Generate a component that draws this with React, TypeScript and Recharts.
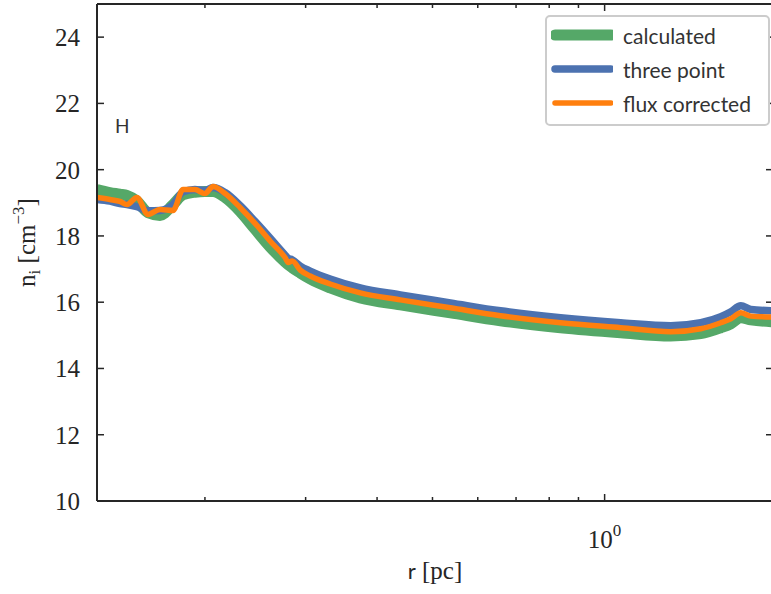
import React from 'react';
import { LineChart, Line, XAxis, YAxis, Legend } from 'recharts';

// radius in pc (log axis)
const radius = [
  0.1295, 0.1364, 0.142, 0.1461, 0.1521, 0.159, 0.1669, 0.1759, 0.1831, 0.1921,
  0.2, 0.2066, 0.2169, 0.2304, 0.2447, 0.2602, 0.2763, 0.2797, 0.2842, 0.2936,
  0.3056, 0.3312, 0.3738, 0.4393, 0.5374, 0.6575, 0.8374, 1.0666, 1.305, 1.4732,
  1.5967, 1.6625, 1.7306, 1.8019, 1.97,
];

const calculated = [
  19.4, 19.31, 19.26, 19.22, 19.05, 18.7, 18.62, 18.95, 19.24, 19.32,
  19.34, 19.34, 19.16, 18.74, 18.2, 17.66, 17.21, 17.13, 17.04, 16.88,
  16.7, 16.43, 16.13, 15.92, 15.68, 15.44, 15.23, 15.08, 14.98, 15.05,
  15.23, 15.35, 15.53, 15.47, 15.41,
];

const threePoint = [
  19.1, 19.05, 18.98, 18.95, 18.88, 18.76, 18.77, 18.95, 19.33, 19.4,
  19.37, 19.46, 19.31, 18.92, 18.44, 17.93, 17.42, 17.32, 17.28, 17.09,
  16.94, 16.7, 16.43, 16.22, 15.98, 15.74, 15.53, 15.38, 15.29, 15.38,
  15.56, 15.71, 15.89, 15.78, 15.74,
];

const fluxCorrected = [
  19.16, 19.1, 19.04, 18.95, 19.16, 18.65, 18.8, 18.77, 19.4, 19.4,
  19.28, 19.49, 19.28, 18.86, 18.38, 17.84, 17.34, 17.2, 17.24, 16.97,
  16.79, 16.55, 16.28, 16.07, 15.83, 15.59, 15.38, 15.23, 15.11, 15.2,
  15.38, 15.5, 15.68, 15.58, 15.55,
];

const xTicks = [0.2, 0.3, 0.4, 0.5, 0.6, 0.7, 0.8, 0.9, 1];
const yTicks = [10, 12, 14, 16, 18, 20, 22, 24];

const series = [
  { key: 'calculated', name: 'calculated', color: '#55a868', width: 11 },
  { key: 'threePoint', name: 'three point', color: '#4c72b0', width: 7.5 },
  { key: 'fluxCorrected', name: 'flux corrected', color: '#ff7f0e', width: 5.5 },
];

const data = radius.map((r, i) => ({
  r,
  calculated: calculated[i],
  threePoint: threePoint[i],
  fluxCorrected: fluxCorrected[i],
}));

const INK = '#262626';
const SERIF = '"Liberation Serif", "DejaVu Serif", serif';
const SANS = 'Lato, "DejaVu Sans", sans-serif';

const BottomTick = ({ x, y, payload }: any) => {
  const major = payload.value === 1;
  return (
    <g>
      <line x1={x} y1={y} x2={x} y2={y - (major ? 7 : 4)} stroke={INK} strokeWidth={1.5} />
      {major && (
        <text x={x} y={y + 47} textAnchor="middle" fontFamily={SERIF} fontSize={25} fill={INK}>
          10<tspan dy={-12} fontSize={17}>0</tspan>
        </text>
      )}
    </g>
  );
};

const TopTick = ({ x, y, payload }: any) => (
  <line x1={x} y1={y} x2={x} y2={y + (payload.value === 1 ? 7 : 4)} stroke={INK} strokeWidth={1.5} />
);

const LeftTick = ({ x, y, payload }: any) => (
  <g>
    <line x1={x} y1={y} x2={x + 7} y2={y} stroke={INK} strokeWidth={1.5} />
    <text x={x - 17} y={y + 9} textAnchor="end" fontFamily={SERIF} fontSize={25} fill={INK}>
      {payload.value}
    </text>
  </g>
);

const RightTick = ({ x, y }: any) => (
  <line x1={x} y1={y} x2={x - 7} y2={y} stroke={INK} strokeWidth={1.5} />
);

const XTitle = ({ viewBox }: any) => (
  <text x={viewBox.x + viewBox.width / 2} y={viewBox.y + 78} textAnchor="middle" fontFamily={SERIF} fontSize={25} fill={INK}>
    <tspan fontFamily={SANS} fontSize={22}>r</tspan> [pc]
  </text>
);

const YTitle = ({ viewBox }: any) => {
  const cx = 35;
  const cy = viewBox.y + viewBox.height / 2 - 10;
  return (
    <text x={cx} y={cy} transform={`rotate(-90 ${cx} ${cy})`} textAnchor="middle" fontFamily={SERIF} fontSize={25} fill={INK}>
      n<tspan dy={5} fontSize={17}>i</tspan>
      <tspan dy={-5}> [cm</tspan>
      <tspan dy={-11} fontSize={17}>−3</tspan>
      <tspan dy={11}>]</tspan>
    </text>
  );
};

const LegendBox = () => (
  <div
    style={{
      width: 221,
      height: 107,
      border: '2px solid #cccccc',
      borderRadius: 5,
      background: '#fff',
      boxSizing: 'content-box',
      position: 'relative',
    }}
  >
    {series.map((s, i) => (
      <div key={s.key} style={{ position: 'absolute', left: 4, top: 3 + i * 34, height: 30, display: 'flex', alignItems: 'center' }}>
        <svg width={62} height={16}>
          <line x1={4} y1={8} x2={60} y2={8} stroke={s.color} strokeWidth={s.width} strokeLinecap="round" />
        </svg>
        <span style={{ marginLeft: 10, fontFamily: SANS, fontSize: 21, color: '#333', whiteSpace: 'nowrap' }}>{s.name}</span>
      </div>
    ))}
  </div>
);

export default function App() {
  return (
    <div style={{ position: 'absolute', left: 0, top: 0, width: 771, height: 594, overflow: 'hidden', background: '#fff' }}>
      <LineChart width={780} height={594} data={data} margin={{ top: 3, right: 6, bottom: 92, left: 96 }}>
        <XAxis
          xAxisId="b"
          dataKey="r"
          type="number"
          scale="log"
          domain={[0.1295, 1.97]}
          allowDataOverflow
          ticks={xTicks}
          interval={0}
          height={1}
          tickSize={0}
          tickMargin={0}
          tickLine={false}
          tick={<BottomTick />}
          axisLine={{ stroke: INK, strokeWidth: 2 }}
          label={<XTitle />}
        />
        <XAxis
          xAxisId="t"
          orientation="top"
          dataKey="r"
          type="number"
          scale="log"
          domain={[0.1295, 1.97]}
          allowDataOverflow
          ticks={xTicks}
          interval={0}
          height={1}
          tickSize={0}
          tickMargin={0}
          tickLine={false}
          tick={<TopTick />}
          axisLine={{ stroke: INK, strokeWidth: 2 }}
        />
        <YAxis
          yAxisId="l"
          type="number"
          domain={[10, 25]}
          allowDataOverflow
          ticks={yTicks}
          interval={0}
          width={1}
          tickSize={0}
          tickMargin={0}
          tickLine={false}
          tick={<LeftTick />}
          axisLine={{ stroke: INK, strokeWidth: 2 }}
          label={<YTitle />}
        />
        <YAxis
          yAxisId="r"
          orientation="right"
          type="number"
          domain={[10, 25]}
          allowDataOverflow
          ticks={yTicks}
          interval={0}
          width={1}
          tickSize={0}
          tickMargin={0}
          tickLine={false}
          tick={<RightTick />}
          axisLine={{ stroke: INK, strokeWidth: 2 }}
        />
        {series.map((s) => (
          <Line
            key={s.key}
            xAxisId="b"
            yAxisId="l"
            dataKey={s.key}
            name={s.name}
            type="monotoneX"
            stroke={s.color}
            strokeWidth={s.width}
            strokeLinejoin="round"
            dot={false}
            activeDot={false}
            isAnimationActive={false}
          />
        ))}
        <Legend
          layout="horizontal"
          verticalAlign="middle"
          align="center"
          content={<LegendBox />}
          wrapperStyle={{ position: 'absolute', left: 545, top: 15, width: 'auto' }}
        />
      </LineChart>
      <div style={{ position: 'absolute', left: 115, top: 114, fontFamily: SANS, fontSize: 19, color: '#333' }}>H</div>
    </div>
  );
}
